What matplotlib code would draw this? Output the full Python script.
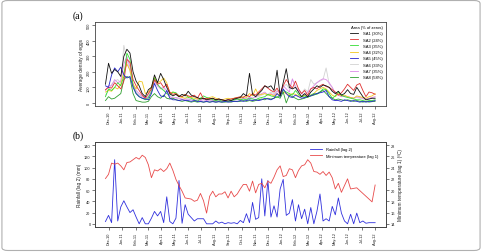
import numpy as np
import pandas as pd
import matplotlib
matplotlib.use("Agg")
import matplotlib.pyplot as plt
import matplotlib.dates as mdates
from matplotlib.patches import FancyBboxPatch

plt.rcParams['font.family'] = ['Liberation Sans', 'DejaVu Sans']

# ---------------- data ----------------
start_date = "2010-11-24"
n_weeks = 89
tick_months = pd.date_range("2010-12-01", "2012-08-01", freq="MS")

series_names = ["SA1 (30%)", "SA2 (24%)", "SA3 (35%)", "SA4 (32%)",
                "SA5 (45%)", "SA6 (33%)", "SA7 (35%)", "SA8 (58%)"]
series_colors = ["#111111", "#e03030", "#33dd33", "#f2c81e",
                 "#2424cc", "#d2d2d2", "#dd8ae8", "#2e9e2e"]

sa1 = [120, 255, 190, 215, 200, 170, 300, 345, 320, 200,
       140, 110, 60, 40, 85, 100, 180, 130, 190, 150,
       100, 60, 45, 55, 40, 55, 45, 75, 50, 40,
       35, 25, 30, 20, 25, 30, 20, 25, 20, 15,
       20, 15, 25, 30, 35, 60, 45, 190, 55, 40,
       60, 80, 110, 100, 110, 80, 210, 45, 130, 220,
       100, 90, 100, 70, 40, 60, 40, 70, 90, 110,
       100, 115, 110, 100, 75, 60, 75, 50, 60, 85,
       60, 55, 100, 70, 40, 20, 25, 30, 30]
sa2 = [85, 100, 95, 130, 110, 90, 140, 280, 260, 150,
       110, 80, 50, 30, 60, 90, 150, 120, 130, 100,
       120, 70, 55, 60, 45, 40, 55, 45, 40, 50,
       30, 65, 25, 30, 25, 30, 20, 25, 20, 15,
       20, 25, 30, 35, 40, 35, 50, 40, 60, 50,
       70, 90, 110, 95, 80, 70, 95, 60, 110, 150,
       120, 95, 140, 90, 60, 80, 50, 90, 100, 90,
       110, 120, 105, 100, 85, 70, 50, 65, 90, 120,
       100, 80, 115, 125, 80, 40, 70, 65, 55]
sa3 = [40, 90, 80, 100, 130, 110, 170, 320, 280, 110,
       60, 40, 30, 20, 35, 70, 160, 120, 95, 80,
       60, 50, 70, 65, 45, 40, 55, 35, 30, 20,
       10, 30, 45, 35, 30, 20, 15, 20, 10, 15,
       10, 15, 20, 25, 20, 25, 20, 30, 25, 20,
       30, 35, 40, 55, 45, 40, 35, 50, 80, 70,
       60, 50, 80, 55, 40, 45, 35, 50, 60, 55,
       70, 90, 85, 60, 30, 45, 70, 50, 40, 35,
       30, 25, 20, 20, 15, 10, 15, 15, 20]
sa4 = [70, 80, 75, 100, 90, 120, 200, 250, 210, 120,
       90, 140, 135, 60, 70, 100, 165, 130, 140, 160,
       130, 60, 70, 55, 40, 35, 30, 40, 35, 30,
       25, 30, 30, 25, 35, 40, 30, 25, 20, 25,
       30, 25, 30, 35, 30, 40, 35, 60, 45, 90,
       50, 55, 60, 50, 55, 45, 60, 50, 70, 60,
       50, 60, 55, 45, 40, 50, 35, 50, 60, 80,
       90, 100, 90, 70, 50, 40, 60, 45, 50, 40,
       35, 30, 45, 40, 35, 30, 40, 45, 60]
sa5 = [110, 100, 180, 225, 200, 230, 180, 160, 170, 100,
       60, 40, 30, 25, 20, 60, 125, 80, 45, 40,
       80, 30, 20, 20, 15, 20, 15, 15, 10, 15,
       10, 10, 5, 10, 5, 8, 5, 8, 5, 10,
       5, 8, 10, 10, 15, 10, 15, 20, 15, 20,
       15, 20, 30, 25, 20, 30, 60, 40, 90, 60,
       40, 35, 50, 40, 30, 35, 40, 45, 55, 60,
       65, 70, 80, 40, 20, 15, 15, 10, 20, 15,
       10, 15, 10, 5, 10, 5, 10, 10, 15]
sa6 = [50, 80, 120, 140, 150, 130, 370, 280, 200, 110,
       70, 50, 40, 30, 50, 90, 140, 110, 100, 90,
       60, 40, 35, 30, 25, 20, 30, 25, 20, 20,
       15, 20, 25, 20, 15, 20, 15, 20, 15, 10,
       15, 20, 15, 20, 25, 30, 25, 40, 30, 35,
       40, 50, 60, 55, 70, 60, 80, 70, 100, 120,
       90, 150, 110, 80, 60, 90, 70, 150, 120, 130,
       140, 150, 225, 120, 100, 60, 50, 40, 45, 40,
       35, 30, 35, 30, 25, 20, 25, 30, 30]
sa7 = [80, 110, 110, 150, 130, 140, 250, 300, 230, 120,
       80, 60, 40, 30, 40, 80, 140, 110, 90, 100,
       80, 40, 30, 35, 30, 25, 20, 25, 20, 15,
       20, 15, 20, 15, 20, 15, 10, 15, 20, 15,
       20, 15, 20, 25, 20, 30, 25, 35, 30, 40,
       50, 60, 70, 50, 60, 50, 75, 60, 110, 90,
       70, 155, 100, 80, 60, 50, 70, 90, 110, 130,
       145, 155, 150, 130, 100, 60, 50, 40, 45, 40,
       35, 30, 40, 35, 30, 25, 30, 35, 40]
sa8 = [15, 40, 25, 30, 45, 60, 150, 170, 160, 60,
       15, 10, 5, 5, 10, 40, 60, 40, 30, 50,
       30, 25, 30, 20, 15, 10, 15, 10, 5, 10,
       5, 8, 5, 8, 5, 10, 5, 8, 5, 5,
       8, 5, 10, 8, 10, 15, 10, 15, 10, 15,
       20, 25, 20, 30, 25, 30, 40, 30, 70, 0,
       50, 40, 30, 20, 25, 30, 40, 45, 50, 60,
       70, 80, 60, 40, 30, 20, 25, 20, 15, 20,
       15, 10, 15, 10, 5, 10, 5, 8, 10]

rainfall = [4, 15, 2, 114, 5, 30, 41, 30, 20, 25,
            12, 0, 11, 0, 0, 10, 22, 14, 22, 2,
            48, 4, 0, 10, 77, 1, 34, 17, 11, 5,
            9, 9, 9, 0, 0, 0, 5, 1, 3, 0,
            2, 1, 2, 0, 6, 2, 18, 2, 38, 8,
            11, 80, 14, 77, 12, 32, 12, 62, 79, 15,
            19, 43, 5, 34, 9, 26, 0, 29, 0, 22,
            53, 5, 9, 5, 31, 16, 46, 19, 5, 0,
            17, 0, 19, 2, 5, 1, 2, 2, 2]
min_temp = [22.05, 22.8, 24.8, 24.6, 24.8, 24.3, 23.6, 24.9, 25.0, 25.4,
            25.8, 25.5, 26.2, 25.8, 24.5, 22.2, 23.6, 23.4, 23.8, 23.3,
            23.8, 24.8, 23.5, 21.9, 20.8, 19.8, 18.6, 18.5, 18.4, 18.0,
            18.2, 19.4, 18.1, 15.9, 18.9, 19.8, 18.8, 19.3, 19.3, 19.7,
            18.6, 19.8, 18.8, 19.3, 20.2, 21.0, 21.0, 19.8, 21.6, 19.5,
            21.0, 21.2, 20.4, 21.6, 21.2, 22.3, 23.6, 24.3, 22.4, 22.6,
            23.8, 23.6, 22.2, 23.5, 24.3, 24.5, 25.4, 24.8, 23.3, 23.2,
            22.8, 23.3, 22.6, 23.2, 22.2, 20.2, 21.2, 19.6, 20.8, 22.0,
            20.2, 20.3, 20.4, 19.9, 19.4, 18.9, 18.4, 17.9, 20.9]

# ---------------- plot ----------------
dates = pd.date_range(start_date, periods=n_weeks, freq="7D")
xlim = (pd.Timestamp("2010-10-31"), pd.Timestamp("2012-08-26"))

fig = plt.figure(figsize=(4.82, 2.53), dpi=100)
fig.patches.append(FancyBboxPatch((0.004, 0.006), 0.992, 0.988,
                                  boxstyle="round,pad=0,rounding_size=0.012",
                                  transform=fig.transFigure, fill=False,
                                  edgecolor="#b0b0b0", linewidth=0.8))

tick_fs = 2.8
lab_fs = 3.4
axcol = "#444444"


def style_axes(ax):
    for s in ax.spines.values():
        s.set_color(axcol)
        s.set_linewidth(0.6)
    ax.tick_params(axis="both", labelsize=tick_fs, length=2, width=0.5,
                   color=axcol, pad=1.2, labelcolor="#222222")
    ax.set_xlim(xlim)
    ax.set_xticks(tick_months)
    ax.set_xticklabels([d.strftime("%b-%y") for d in tick_months],
                       rotation=90)


# panel (a)
axa = fig.add_axes([0.197, 0.577, 0.604, 0.332])
all_series = [sa1, sa2, sa3, sa4, sa5, sa6, sa7, sa8]
order = [5, 6, 3, 2, 7, 1, 4, 0]
handles = [None] * 8
for k in order:
    h, = axa.plot(dates, all_series[k], color=series_colors[k], lw=0.6,
                  label=series_names[k])
    handles[k] = h
style_axes(axa)
axa.set_ylim(-20, 520)
axa.set_yticks([0, 100, 200, 300, 400, 500])
axa.set_yticklabels(["0", "100", "200", "300", "400", "500"],
                    rotation=90, va="center")
axa.set_ylabel("Average density of eggs", fontsize=lab_fs, labelpad=2,
               color="#222222")
leg = axa.legend(handles=handles, loc="upper right", frameon=False,
                 title="Area (% of zeros)", fontsize=3.0, title_fontsize=3.0,
                 handlelength=2.0, handletextpad=1.2, labelspacing=0.55,
                 borderaxespad=0.3, bbox_to_anchor=(1.0, 1.0))
leg._legend_box.align = "right"
fig.text(0.151, 0.935, "(a)", fontsize=7, family=["Liberation Serif", "DejaVu Serif"],
         va="center", ha="left")

# panel (b)
axb = fig.add_axes([0.197, 0.099, 0.604, 0.336])
lr, = axb.plot(dates, rainfall, color="#3030dd", lw=0.6,
               label="Rainfall (lag 2)")
style_axes(axb)
axb.set_ylim(-5.6, 145.6)
axb.set_yticks(np.arange(0, 141, 20))
axb.set_ylabel("Rainfall (lag 2) (mm)", fontsize=lab_fs, labelpad=1.5,
               color="#222222")
axt = axb.twinx()
lt, = axt.plot(dates, min_temp, color="#e84a4a", lw=0.6,
               label="Minimum temperature (lag 1)")
axt.set_ylim(13.44, 28.56)
axt.set_yticks(np.arange(14, 29, 2))
for s in axt.spines.values():
    s.set_color(axcol)
    s.set_linewidth(0.6)
axt.tick_params(axis="y", labelsize=tick_fs, length=2, width=0.5,
                color=axcol, pad=1.2, labelcolor="#222222")
axt.set_ylabel("Minimum temperature (lag 1) (ºC)", fontsize=lab_fs,
               labelpad=2.5, color="#222222")
axb.legend(handles=[lr, lt], loc="upper right", frameon=False,
           fontsize=3.0, handlelength=3.0, handletextpad=0.8,
           labelspacing=0.7, bbox_to_anchor=(0.985, 0.985))
fig.text(0.151, 0.462, "(b)", fontsize=7, family=["Liberation Serif", "DejaVu Serif"],
         va="center", ha="left")

fig.savefig("out.png", dpi=100)
